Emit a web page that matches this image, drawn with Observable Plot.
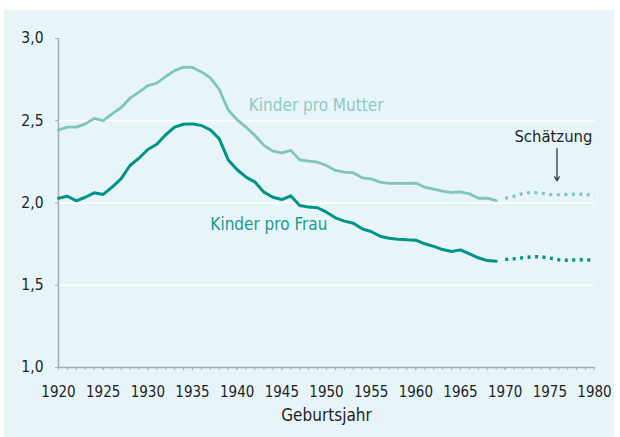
<!DOCTYPE html>
<html>
<head>
<meta charset="utf-8">
<script src="https://cdn.jsdelivr.net/npm/d3@7"></script>
<script src="https://cdn.jsdelivr.net/npm/@observablehq/plot@0.6"></script>
<style>
  html, body { margin: 0; padding: 0; background: #ffffff; }
  #wrap { position: relative; width: 620px; height: 437px; overflow: hidden; }
  #panel { position: absolute; left: 4px; top: 10px; width: 610px; height: 427px; background: #e7f5f9; }
  #chart { position: absolute; left: 0; top: 0; }
</style>
</head>
<body>
<div id="wrap"><div id="panel"></div><div id="chart"></div></div>
<script>
// Observed cohorts (birth years 1920–1969)
const years = d3.range(1920, 1970);
const kinderProMutter = [2.445, 2.461, 2.461, 2.481, 2.514, 2.501, 2.542, 2.579, 2.637, 2.674,
  2.714, 2.728, 2.769, 2.805, 2.826, 2.824, 2.797, 2.761, 2.690, 2.565,
  2.505, 2.461, 2.410, 2.350, 2.315, 2.305, 2.320, 2.262, 2.254, 2.248,
  2.228, 2.198, 2.188, 2.183, 2.153, 2.147, 2.127, 2.119, 2.119, 2.119,
  2.121, 2.096, 2.084, 2.072, 2.064, 2.068, 2.056, 2.029, 2.029, 2.015];
const kinderProFrau = [2.029, 2.041, 2.013, 2.035, 2.062, 2.052, 2.096, 2.147, 2.228, 2.272,
  2.325, 2.357, 2.415, 2.461, 2.479, 2.481, 2.471, 2.445, 2.390, 2.262,
  2.202, 2.157, 2.127, 2.066, 2.035, 2.021, 2.044, 1.985, 1.975, 1.971,
  1.944, 1.910, 1.890, 1.877, 1.843, 1.827, 1.798, 1.786, 1.780, 1.776,
  1.774, 1.752, 1.736, 1.717, 1.705, 1.715, 1.691, 1.667, 1.650, 1.646];

// Estimated cohorts (Schätzung, 1970–1980)
const estYears = d3.range(1970, 1981);
const estMutter = [2.029, 2.041, 2.058, 2.064, 2.060, 2.052, 2.050, 2.052, 2.054, 2.052, 2.045];
const estFrau = [1.657, 1.661, 1.667, 1.673, 1.673, 1.665, 1.655, 1.652, 1.655, 1.655, 1.652];

// Axis ticks
const yTicks = [1.0, 1.5, 2.0, 2.5, 3.0];
const gridValues = [1.5, 2.0, 2.5];
const xLabelTicks = d3.range(1920, 1981, 5);
const xMinorTicks = d3.range(1920, 1981, 1);

// Annotations (data coordinates)
const labels = [
  {text: "Kinder pro Mutter", x: 1941.3, y: 2.593, color: "#8dcac2"},
  {text: "Kinder pro Frau", x: 1937.0, y: 1.872, color: "#1a9a90"}
];
const estLabel = {text: "Schätzung", x: 1975.4, y: 2.405};
const estArrow = {x: 1975.8, y1: 2.33, y2: 2.135};

const mutterData = years.map((yr, i) => ({yr, v: kinderProMutter[i]}));
const frauData = years.map((yr, i) => ({yr, v: kinderProFrau[i]}));
const estMutterData = estYears.map((yr, i) => ({yr, v: estMutter[i]}));
const estFrauData = estYears.map((yr, i) => ({yr, v: estFrau[i]}));

const cMutter = "#7fc5bc";
const cFrau = "#009488";
const axisGrey = "#a9adb0";
const font = "'DejaVu Sans Condensed', 'DejaVu Sans', sans-serif";
const fmt = d => d3.format(".1f")(d).replace(".", ",");

const chart = Plot.plot({
  width: 620,
  height: 437,
  marginLeft: 58,
  marginRight: 26,
  marginTop: 38,
  marginBottom: 70,
  style: {background: "transparent", fontFamily: font, fontSize: "15px", color: "#222"},
  x: {domain: [1920, 1980]},
  y: {domain: [1, 3]},
  marks: [
    Plot.ruleY(gridValues, {stroke: "#ffffff", strokeWidth: 1.6}),
    Plot.axisX({ticks: xMinorTicks, tickSize: 3, tickFormat: () => "", stroke: axisGrey, label: null}),
    Plot.axisX({ticks: xLabelTicks, tickSize: 3, tickPadding: 16, tickFormat: d => String(d), stroke: axisGrey, fill: "#1e1e1e", label: null, fontSize: 15}),
    Plot.axisY({ticks: yTicks, tickSize: 3, tickPadding: 12, tickFormat: fmt, stroke: axisGrey, fill: "#1e1e1e", label: null, fontSize: 15.5}),
    Plot.ruleX([1920], {stroke: axisGrey, strokeWidth: 1.5}),
    Plot.ruleY([1], {stroke: axisGrey, strokeWidth: 1.5}),
    Plot.line(mutterData, {x: "yr", y: "v", stroke: cMutter, strokeWidth: 2.8}),
    Plot.line(frauData, {x: "yr", y: "v", stroke: cFrau, strokeWidth: 3}),
    Plot.line(estMutterData, {x: "yr", y: "v", stroke: cMutter, strokeWidth: 3.2, strokeDasharray: "3,4.5", strokeLinecap: "butt"}),
    Plot.line(estFrauData, {x: "yr", y: "v", stroke: cFrau, strokeWidth: 3.4, strokeDasharray: "3,4.5", strokeLinecap: "butt"}),
    Plot.text(labels, {x: "x", y: "y", text: "text", fill: "color", textAnchor: "start", fontSize: 17}),
    Plot.text([estLabel], {x: "x", y: "y", text: "text", fill: "#1e1e1e", fontSize: 16.5}),
    Plot.arrow([estArrow], {x: "x", y1: "y1", y2: "y2", stroke: "#444", strokeWidth: 1.4, headLength: 5}),
    Plot.text(["Geburtsjahr"], {frameAnchor: "bottom", dy: 53, fill: "#1e1e1e", fontSize: 17})
  ]
});
document.getElementById("chart").appendChild(chart);
</script>
</body>
</html>
